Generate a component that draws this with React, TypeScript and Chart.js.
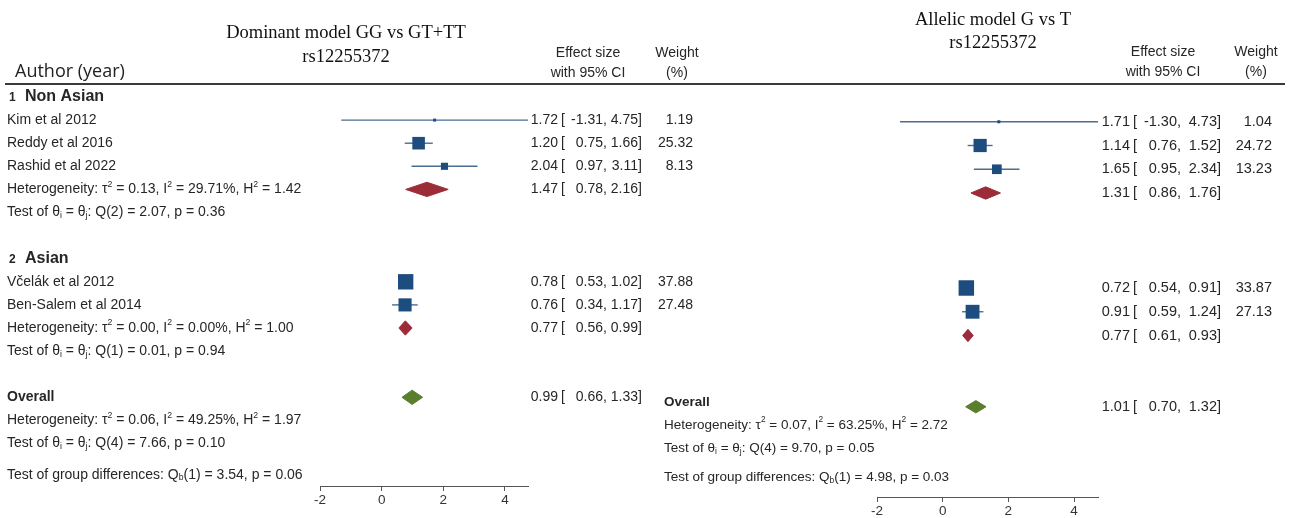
import React, { useEffect, useRef } from 'react';
import { Chart, registerables } from 'chart.js';
Chart.register(...registerables);

// ---------- data ----------
const groupNumbers = ['1', '2'];
const groupLabels = ['Non Asian', 'Asian'];
const studyLabels = ['Kim et al 2012', 'Reddy et al 2016', 'Rashid et al 2022', 'Včelák et al 2012', 'Ben-Salem et al 2014'];
const xTicks = [-2, 0, 2, 4];

// Dominant model GG vs GT+TT
const domEst = [1.72, 1.20, 2.04, 0.78, 0.76];
const domLo = [-1.31, 0.75, 0.97, 0.53, 0.34];
const domHi = [4.75, 1.66, 3.11, 1.02, 1.17];
const domWeight = [1.19, 25.32, 8.13, 37.88, 27.48];
const domSubEst = [1.47, 0.77];
const domSubLo = [0.78, 0.56];
const domSubHi = [2.16, 0.99];
const domOverall = [0.99, 0.66, 1.33];
const domHet = [['0.13', '29.71%', '1.42'], ['0.00', '0.00%', '1.00'], ['0.06', '49.25%', '1.97']];
const domQ = [['2', '2.07', '0.36'], ['1', '0.01', '0.94'], ['4', '7.66', '0.10']];
const domQb = ['3.54', '0.06'];

// Allelic model G vs T
const alleEst = [1.71, 1.14, 1.65, 0.72, 0.91];
const alleLo = [-1.30, 0.76, 0.95, 0.54, 0.59];
const alleHi = [4.73, 1.52, 2.34, 0.91, 1.24];
const alleWeight = [1.04, 24.72, 13.23, 33.87, 27.13];
const alleSubEst = [1.31, 0.77];
const alleSubLo = [0.86, 0.61];
const alleSubHi = [1.76, 0.93];
const alleOverall = [1.01, 0.70, 1.32];
const alleHet = ['0.07', '63.25%', '2.72'];
const alleQ = ['4', '9.70', '0.05'];
const alleQb = ['4.98', '0.03'];

// row layout (row indices)
const studyRows = [1, 2, 3, 8, 9];
const subRows = [4, 10];
const overallRow = 13;

// ---------- style ----------
const SANS = '"Liberation Sans", Arial, sans-serif';
const SERIF = '"Liberation Serif", "Times New Roman", serif';
const AUTHOR_FONT = '"Open Sans", sans-serif';
const NAVY = '#1d4d7e';
const CI_COLOR = '#4a6d90';
const RED = '#9b2c38';
const GREEN = '#5a7e2c';
const TEXT = '#262626';
const H = 518;
const AXIS_H = 20;

type Seg = [string, number?];

function rich(ctx: CanvasRenderingContext2D, segs: Seg[], x: number, y: number, size: number, weight = 'normal') {
  let cx = x;
  ctx.textAlign = 'left';
  ctx.textBaseline = 'middle';
  ctx.fillStyle = TEXT;
  for (const [t, k = 0] of segs) {
    const fs = k ? size * 0.62 : size;
    ctx.font = `${weight} ${fs}px ${SANS}`;
    const dy = k === 1 ? -size * 0.36 : k === -1 ? size * 0.24 : 0;
    ctx.fillText(t, cx, y + dy);
    cx += ctx.measureText(t).width;
  }
}

function text(ctx: CanvasRenderingContext2D, s: string, x: number, y: number, font: string, align: CanvasTextAlign = 'left', color = TEXT) {
  ctx.font = font;
  ctx.textAlign = align;
  ctx.textBaseline = 'middle';
  ctx.fillStyle = color;
  ctx.fillText(s, x, y);
}

const hetSegs = (h: string[]): Seg[] => [['Heterogeneity: τ'], ['2', 1], [` = ${h[0]}, I`], ['2', 1], [` = ${h[1]}, H`], ['2', 1], [` = ${h[2]}`]];
const qSegs = (q: string[]): Seg[] => [['Test of θ'], ['i', -1], [' = θ'], ['j', -1], [`: Q(${q[0]}) = ${q[1]}, p = ${q[2]}`]];
const qbSegs = (q: string[]): Seg[] => [['Test of group differences: Q'], ['b', -1], [`(1) = ${q[0]}, p = ${q[1]}`]];

function effect(ctx: CanvasRenderingContext2D, ox: number, py: number, v: number[], w: number | null, col: any, size: number) {
  const f = `${size}px ${SANS}`;
  text(ctx, v[0].toFixed(2), col.est - ox, py, f, 'right');
  text(ctx, '[', col.lb - ox, py, f, 'left');
  text(ctx, v[1].toFixed(2), col.lo - ox, py, f, 'right');
  text(ctx, ',', col.lo - ox, py, f, 'left');
  text(ctx, v[2].toFixed(2), col.hi - ox, py, f, 'right');
  text(ctx, ']', col.hi - ox, py, f, 'left');
  if (w !== null) text(ctx, w.toFixed(2), col.w - ox, py, f, 'right');
}

const LEFT = {
  canvasX: 0, canvasW: 720, plotL: 320, plotR: 528, top: 84, axisY: 486,
  row0: 97, rowH: 23.1, xMin: -2, xMax: 4.75, sqK: 2.5, dH: 0.31,
  est: domEst, lo: domLo, hi: domHi, w: domWeight,
  subEst: domSubEst, subLo: domSubLo, subHi: domSubHi, overall: domOverall,
};
const RIGHT = {
  canvasX: 640, canvasW: 653, plotL: 877, plotR: 1098, top: 84, axisY: 497,
  row0: 98, rowH: 23.75, xMin: -2, xMax: 4.73, sqK: 2.66, dH: 0.26,
  est: alleEst, lo: alleLo, hi: alleHi, w: alleWeight,
  subEst: alleSubEst, subLo: alleSubLo, subHi: alleSubHi, overall: alleOverall,
};

function drawLeftTexts(ctx: CanvasRenderingContext2D, Y: (r: number) => number) {
  const ox = LEFT.canvasX;
  text(ctx, 'Dominant model GG vs GT+TT', 346 - ox, 33, `18.5px ${SERIF}`, 'center', '#111');
  text(ctx, 'rs12255372', 346 - ox, 57, `18.5px ${SERIF}`, 'center', '#111');
  text(ctx, 'Author (year)', 15 - ox, 72, `18px ${AUTHOR_FONT}`, 'left', '#222');
  text(ctx, 'Effect size', 588 - ox, 53, `14px ${SANS}`, 'center');
  text(ctx, 'with 95% CI', 588 - ox, 73, `14px ${SANS}`, 'center');
  text(ctx, 'Weight', 677 - ox, 53, `14px ${SANS}`, 'center');
  text(ctx, '(%)', 677 - ox, 73, `14px ${SANS}`, 'center');
  ctx.strokeStyle = '#3a3a3a';
  ctx.lineWidth = 2;
  ctx.beginPath();
  ctx.moveTo(5 - ox, 84);
  ctx.lineTo(720 - ox, 84);
  ctx.stroke();

  [0, 7].forEach((r, g) => {
    text(ctx, groupNumbers[g], 9 - ox, Y(r) + 1, `bold 12px ${SANS}`);
    text(ctx, groupLabels[g], 25 - ox, Y(r), `bold 16px ${SANS}`);
  });
  studyRows.forEach((r, i) => text(ctx, studyLabels[i], 7 - ox, Y(r), `14px ${SANS}`));
  [4, 10, 14].forEach((r, i) => rich(ctx, hetSegs(domHet[i]), 7 - ox, Y(r), 14));
  [5, 11, 15].forEach((r, i) => rich(ctx, qSegs(domQ[i]), 7 - ox, Y(r), 14));
  text(ctx, 'Overall', 7 - ox, Y(overallRow), `bold 14px ${SANS}`);
  rich(ctx, qbSegs(domQb), 7 - ox, Y(16.35), 14);

  const col = { est: 558, lb: 561, lo: 603, hi: 638, w: 693 };
  studyRows.forEach((r, i) => effect(ctx, ox, Y(r), [domEst[i], domLo[i], domHi[i]], domWeight[i], col, 14));
  subRows.forEach((r, i) => effect(ctx, ox, Y(r), [domSubEst[i], domSubLo[i], domSubHi[i]], null, col, 14));
  effect(ctx, ox, Y(overallRow), domOverall, null, col, 14);
}

function drawRightTexts(ctx: CanvasRenderingContext2D, Y: (r: number) => number) {
  const ox = RIGHT.canvasX;
  text(ctx, 'Allelic model G vs T', 993 - ox, 20, `18.5px ${SERIF}`, 'center', '#111');
  text(ctx, 'rs12255372', 993 - ox, 43, `18.5px ${SERIF}`, 'center', '#111');
  text(ctx, 'Effect size', 1163 - ox, 52, `14px ${SANS}`, 'center');
  text(ctx, 'with 95% CI', 1163 - ox, 72, `14px ${SANS}`, 'center');
  text(ctx, 'Weight', 1256 - ox, 52, `14px ${SANS}`, 'center');
  text(ctx, '(%)', 1256 - ox, 72, `14px ${SANS}`, 'center');
  ctx.strokeStyle = '#3a3a3a';
  ctx.lineWidth = 2;
  ctx.beginPath();
  ctx.moveTo(640 - ox, 84);
  ctx.lineTo(1285 - ox, 84);
  ctx.stroke();

  text(ctx, 'Overall', 664 - ox, Y(12.8), `bold 13.5px ${SANS}`);
  rich(ctx, hetSegs(alleHet), 664 - ox, Y(13.77), 13.5);
  rich(ctx, qSegs(alleQ), 664 - ox, Y(14.75), 13.5);
  rich(ctx, qbSegs(alleQb), 664 - ox, Y(15.97), 13.5);

  const col = { est: 1130, lb: 1133, lo: 1177, hi: 1217, w: 1272 };
  studyRows.forEach((r, i) => effect(ctx, ox, Y(r), [alleEst[i], alleLo[i], alleHi[i]], alleWeight[i], col, 14.5));
  subRows.forEach((r, i) => effect(ctx, ox, Y(r), [alleSubEst[i], alleSubLo[i], alleSubHi[i]], null, col, 14.5));
  effect(ctx, ox, Y(overallRow), alleOverall, null, col, 14.5);
}

function diamond(v: number[], row: number, h: number, color: string) {
  return {
    type: 'line',
    data: [{ x: v[1], y: row }, { x: v[0], y: row - h }, { x: v[2], y: row }, { x: v[0], y: row + h }, { x: v[1], y: row }],
    borderColor: color, backgroundColor: color, borderWidth: 1, pointRadius: 0,
    showLine: true, fill: 'shape', tension: 0,
  };
}

function Panel({ cfg, draw }: { cfg: any; draw: (ctx: CanvasRenderingContext2D, Y: (r: number) => number) => void }) {
  const ref = useRef<HTMLCanvasElement>(null);
  useEffect(() => {
    const canvas = ref.current!;
    const yMin = (cfg.top - cfg.row0) / cfg.rowH;
    const yMax = (cfg.axisY - cfg.row0) / cfg.rowH;
    const datasets: any[] = [];
    datasets.push({
      type: 'scatter',
      data: cfg.est.map((e: number, i: number) => ({ x: e, y: studyRows[i] })),
      pointStyle: 'rect',
      pointRadius: cfg.w.map((w: number) => Math.max(3, cfg.sqK * Math.sqrt(w)) / Math.SQRT2),
      backgroundColor: NAVY, borderWidth: 0, showLine: false,
    });
    cfg.lo.forEach((lo: number, i: number) => datasets.push({
      type: 'line',
      data: [{ x: lo, y: studyRows[i] }, { x: cfg.hi[i], y: studyRows[i] }],
      borderColor: CI_COLOR, borderWidth: 1.4, pointRadius: 0, showLine: true, fill: false,
    }));
    subRows.forEach((r, i) => datasets.push(diamond([cfg.subEst[i], cfg.subLo[i], cfg.subHi[i]], r, cfg.dH, RED)));
    datasets.push(diamond(cfg.overall, overallRow, cfg.dH, GREEN));

    const textPlugin = {
      id: 'forestText',
      afterDraw(chart: any) {
        const ctx = chart.ctx as CanvasRenderingContext2D;
        const ys = chart.scales.y;
        ctx.save();
        draw(ctx, (r: number) => ys.getPixelForValue(r));
        ctx.restore();
      },
    };

    const chart = new Chart(canvas, {
      type: 'scatter',
      data: { datasets },
      options: {
        responsive: false,
        animation: false,
        events: [],
        layout: {
          padding: {
            left: cfg.plotL - cfg.canvasX,
            right: cfg.canvasX + cfg.canvasW - cfg.plotR,
            top: cfg.top,
            bottom: H - cfg.axisY - AXIS_H,
          },
        },
        plugins: { legend: { display: false }, tooltip: { enabled: false } },
        scales: {
          x: {
            type: 'linear', position: 'bottom', min: cfg.xMin, max: cfg.xMax,
            afterBuildTicks: (s: any) => { s.ticks = xTicks.map((v) => ({ value: v })); },
            afterFit: (s: any) => { s.height = AXIS_H; },
            grid: { display: true, drawOnChartArea: false, drawTicks: true, tickLength: 5, color: '#555', lineWidth: 1 },
            border: { display: true, color: '#555', width: 1 },
            ticks: { color: '#333', font: { family: SANS, size: 13.5 }, padding: 1, maxRotation: 0, autoSkip: false },
          },
          y: { type: 'linear', display: false, reverse: true, min: yMin, max: yMax },
        },
      } as any,
      plugins: [textPlugin],
    } as any);
    return () => chart.destroy();
  }, []);
  return (
    <canvas ref={ref} width={cfg.canvasW} height={H}
      style={{ position: 'absolute', left: cfg.canvasX, top: 0, width: cfg.canvasW, height: H }} />
  );
}

export default function App() {
  return (
    <div style={{ position: 'fixed', left: 0, top: 0, width: 1293, height: H, background: '#fff' }}>
      <Panel cfg={LEFT} draw={drawLeftTexts} />
      <Panel cfg={RIGHT} draw={drawRightTexts} />
    </div>
  );
}
